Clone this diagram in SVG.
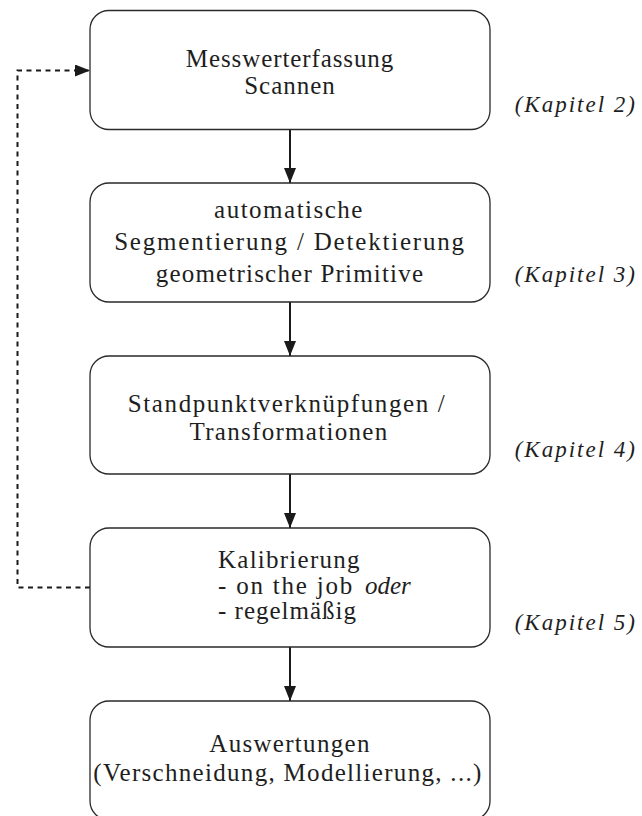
<svg xmlns="http://www.w3.org/2000/svg" width="642" height="816" viewBox="0 0 642 816">
  <defs>
    <marker id="tip" viewBox="0 0 15 12" refX="15" refY="6" markerWidth="15" markerHeight="12" markerUnits="userSpaceOnUse" orient="auto">
      <path d="M0,0 L15,6 L0,12 Z" fill="#1a1a1a"/>
    </marker>
    <style>
      .box { fill: #ffffff; stroke: #2a2a2a; stroke-width: 1.3; }
      .t { font-family: 'Liberation Serif', serif; font-size: 25px; fill: #1e1e1e; }
      .c { text-anchor: middle; }
      .it { font-style: italic; }
      .cap { font-family: 'Liberation Serif', serif; font-size: 23px; font-style: italic; letter-spacing: 2px; fill: #1e1e1e; text-anchor: end; }
      .flow { fill: none; stroke: #1a1a1a; stroke-width: 2; }
      .back { fill: none; stroke: #1a1a1a; stroke-width: 2; stroke-dasharray: 5 4.5; }
    </style>
  </defs>

  <!-- connectors -->
  <g id="connectors">
    <line class="flow" x1="290" y1="129.5" x2="290" y2="183" marker-end="url(#tip)"/>
    <line class="flow" x1="290" y1="302" x2="290" y2="356" marker-end="url(#tip)"/>
    <line class="flow" x1="290" y1="474" x2="290" y2="528" marker-end="url(#tip)"/>
    <line class="flow" x1="290" y1="647" x2="290" y2="701" marker-end="url(#tip)"/>
    <path class="back" d="M90,587.5 H17.5 V70.5 H90" marker-end="url(#tip)"/>
  </g>

  <!-- process steps -->
  <g id="step-scan">
    <rect class="box" x="90" y="10.5" width="400" height="119" rx="19" ry="19"/>
    <text class="t c" x="290" y="67" letter-spacing="0.9">Messwerterfassung</text>
    <text class="t c" x="290" y="94" letter-spacing="1">Scannen</text>
  </g>

  <g id="step-segment">
    <rect class="box" x="90" y="183" width="400" height="119" rx="19" ry="19"/>
    <text class="t c" x="289" y="218" letter-spacing="1.5">automatische</text>
    <text class="t c" x="290" y="250" letter-spacing="1.8">Segmentierung / Detektierung</text>
    <text class="t c" x="290" y="282" letter-spacing="1.2">geometrischer Primitive</text>
  </g>

  <g id="step-register">
    <rect class="box" x="90" y="356" width="400" height="118" rx="19" ry="19"/>
    <text class="t c" x="287" y="412" letter-spacing="1.6">Standpunktverknüpfungen /</text>
    <text class="t c" x="289" y="440" letter-spacing="1.3">Transformationen</text>
  </g>

  <g id="step-calibrate">
    <rect class="box" x="90" y="528" width="400" height="119" rx="19" ry="19"/>
    <text class="t" x="218" y="568" letter-spacing="1.25">Kalibrierung</text>
    <text class="t" x="218" y="594" letter-spacing="1.8">- on the job</text>
    <text class="t it" x="365" y="594">oder</text>
    <text class="t" x="218" y="619" letter-spacing="1">- regelmäßig</text>
  </g>

  <g id="step-evaluate">
    <rect class="box" x="90" y="701" width="400" height="119" rx="19" ry="19"/>
    <text class="t c" x="290" y="751.5" letter-spacing="1.3">Auswertungen</text>
    <text class="t c" x="288" y="780.5" letter-spacing="1.3">(Verschneidung, Modellierung, ...)</text>
  </g>

  <!-- chapter references -->
  <g id="chapters">
    <text class="cap" x="637" y="111.5">(Kapitel 2)</text>
    <text class="cap" x="637" y="281.5">(Kapitel 3)</text>
    <text class="cap" x="637" y="456.5">(Kapitel 4)</text>
    <text class="cap" x="637" y="630">(Kapitel 5)</text>
  </g>
</svg>
